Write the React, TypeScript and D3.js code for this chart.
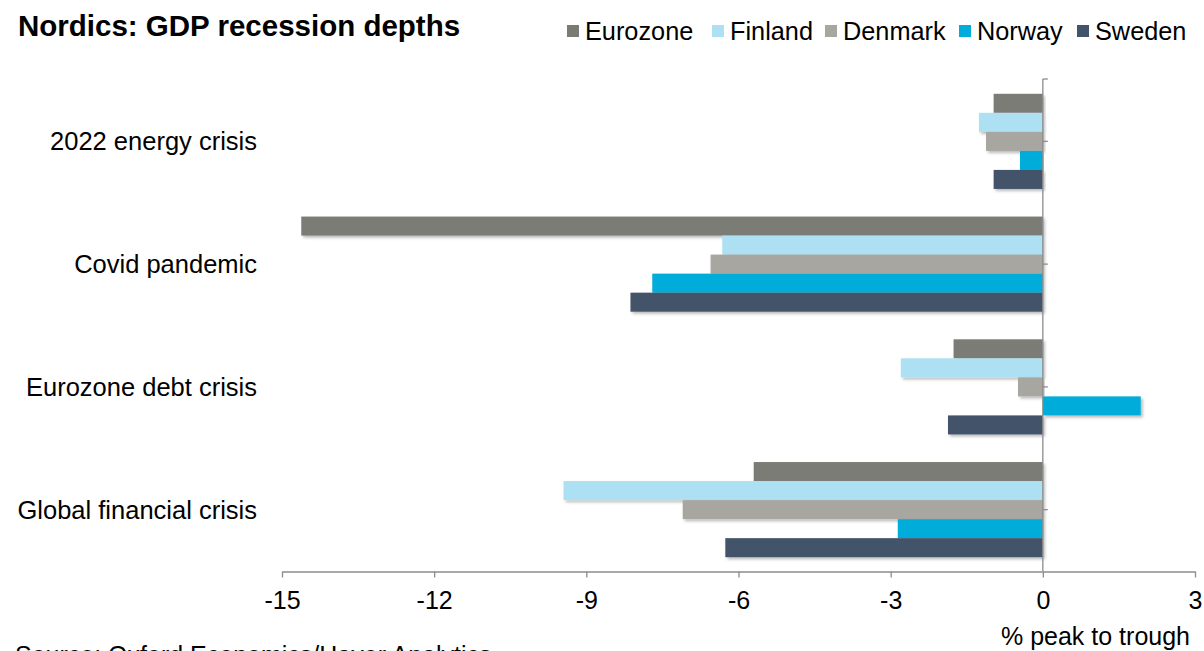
import { useRef, useEffect } from "react";
import * as d3 from "d3";

// Chart data
const categories = [
  "2022 energy crisis",
  "Covid pandemic",
  "Eurozone debt crisis",
  "Global financial crisis",
];
const seriesNames = ["Eurozone", "Finland", "Denmark", "Norway", "Sweden"];
const seriesColors = ["#7b7b76", "#ade0f2", "#a8a6a1", "#00acd9", "#43536b"];

const eurozone = [-0.97, -14.62, -1.76, -5.7];
const finland = [-1.26, -6.32, -2.8, -9.45];
const denmark = [-1.12, -6.55, -0.49, -7.1];
const norway = [-0.45, -7.7, 1.93, -2.86];
const sweden = [-0.97, -8.13, -1.87, -6.26];

const xTicks = [-15, -12, -9, -6, -3, 0, 3];

function App() {
  const svgRef = useRef<SVGSVGElement>(null);

  useEffect(() => {
    const w = 1204;
    const h = 651;
    const font = "Arial, 'Liberation Sans', sans-serif";
    const svg = d3.select(svgRef.current);
    svg.selectAll("*").remove();

    // drop shadow for bars
    const filter = svg
      .append("defs")
      .append("filter")
      .attr("id", "shadow")
      .attr("x", "-5%")
      .attr("y", "-20%")
      .attr("width", "110%")
      .attr("height", "160%");
    filter
      .append("feDropShadow")
      .attr("dx", 2)
      .attr("dy", 2)
      .attr("stdDeviation", 1.5)
      .attr("flood-color", "#000")
      .attr("flood-opacity", 0.28);

    // Scales
    const x = d3.scaleLinear().domain([-15, 3]).range([282, 1195]);
    const y = d3
      .scaleBand()
      .domain(categories)
      .range([80, 571])
      .paddingInner(0.225)
      .paddingOuter(0.1125);
    const ySub = d3
      .scaleBand()
      .domain(seriesNames)
      .range([0, y.bandwidth()]);

    const series = [eurozone, finland, denmark, norway, sweden];

    // Bars
    series.forEach((vals, si) => {
      svg
        .append("g")
        .selectAll("rect")
        .data(vals)
        .enter()
        .append("rect")
        .attr("x", (d) => x(Math.min(0, d)))
        .attr("y", (d, i) => (y(categories[i]) as number) + (ySub(seriesNames[si]) as number))
        .attr("width", (d) => Math.abs(x(d) - x(0)))
        .attr("height", ySub.bandwidth())
        .attr("fill", seriesColors[si])
        .attr("filter", "url(#shadow)");
    });

    const axisColor = "#8c8c8c";

    // Vertical axis at zero
    svg
      .append("line")
      .attr("x1", x(0))
      .attr("x2", x(0))
      .attr("y1", 79)
      .attr("y2", 571)
      .attr("stroke", axisColor)
      .attr("stroke-width", 1.3);
    const yTickPos = [79, ...categories.map((c) => (y(c) as number) + y.bandwidth() / 2)];
    svg
      .append("g")
      .selectAll("line")
      .data(yTickPos)
      .enter()
      .append("line")
      .attr("x1", x(0))
      .attr("x2", x(0) + 5)
      .attr("y1", (d) => d)
      .attr("y2", (d) => d)
      .attr("stroke", axisColor)
      .attr("stroke-width", 1.3);

    // Category labels
    svg
      .append("g")
      .selectAll("text")
      .data(categories)
      .enter()
      .append("text")
      .attr("x", 257)
      .attr("y", (d) => (y(d) as number) + y.bandwidth() / 2)
      .attr("dy", "0.35em")
      .attr("text-anchor", "end")
      .attr("font-family", font)
      .attr("font-size", 25.5)
      .attr("fill", "#000")
      .text((d) => d);

    // Horizontal axis
    const xAxis = d3
      .axisBottom(x)
      .tickValues(xTicks)
      .tickSize(6)
      .tickSizeOuter(0)
      .tickPadding(14)
      .tickFormat((d) => String(d));
    const gx = svg.append("g").attr("transform", "translate(0, 571.5)").call(xAxis);
    gx.select(".domain").attr("stroke", axisColor).attr("stroke-width", 1.3);
    gx.selectAll(".tick line").attr("stroke", axisColor).attr("stroke-width", 1.3);
    gx.selectAll(".tick text")
      .attr("font-family", font)
      .attr("font-size", 25)
      .attr("fill", "#000");

    // Axis title
    svg
      .append("text")
      .attr("x", 1190)
      .attr("y", 645)
      .attr("text-anchor", "end")
      .attr("font-family", font)
      .attr("font-size", 25)
      .text("% peak to trough");

    // Source
    svg
      .append("text")
      .attr("x", 15)
      .attr("y", 664)
      .attr("font-family", font)
      .attr("font-size", 25)
      .text("Source: Oxford Economics/Haver Analytics");

    // Title
    svg
      .append("text")
      .attr("x", 18)
      .attr("y", 36)
      .attr("font-family", font)
      .attr("font-weight", "bold")
      .attr("font-size", 29.5)
      .text("Nordics: GDP recession depths");

    // Legend
    const legendX = [567, 712, 825, 959, 1077];
    const legend = svg
      .append("g")
      .selectAll("g")
      .data(seriesNames)
      .enter()
      .append("g")
      .attr("transform", (d, i) => `translate(${legendX[i]}, 0)`);
    legend
      .append("rect")
      .attr("x", 0)
      .attr("y", 25)
      .attr("width", 12)
      .attr("height", 12)
      .attr("fill", (d, i) => seriesColors[i]);
    legend
      .append("text")
      .attr("x", 18)
      .attr("y", 40)
      .attr("font-family", font)
      .attr("font-size", 25.3)
      .text((d) => d);

    svg.attr("width", w).attr("height", h);
  }, []);

  return (
    <svg
      ref={svgRef}
      width={1204}
      height={651}
      style={{ position: "absolute", left: 0, top: 0, background: "#fff" }}
    ></svg>
  );
}

export default App;
